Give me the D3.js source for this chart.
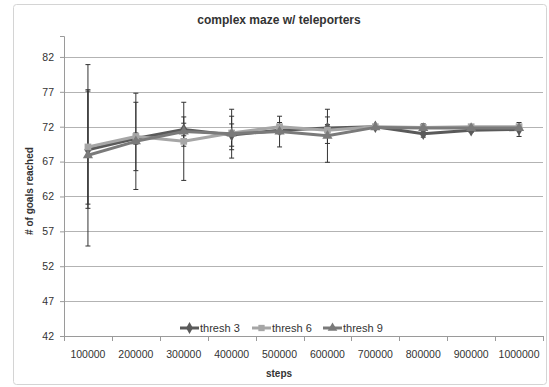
<!DOCTYPE html>
<html>
<head>
<meta charset="utf-8">
<script src="https://cdn.jsdelivr.net/npm/d3@7"></script>
<style>
  body { margin: 0; background: #fff; }
  text { font-family: "Liberation Sans", Arial, sans-serif; fill: #333; }
</style>
</head>
<body>
<div class="chart"></div>
<script>
// data
var steps = ["100000", "200000", "300000", "400000", "500000", "600000", "700000", "800000", "900000", "1000000"];
var seriesNames = ["thresh 3", "thresh 6", "thresh 9"];
var thresh3 = [68.7, 70.3, 71.6, 70.8, 71.5, 71.8, 72.0, 71.0, 71.5, 71.6];
var thresh3Err = [8.4, 0.8, 0.9, 1.6, 0.5, 0.5, 0.3, 0.5, 0.3, 1.0];
var thresh6 = [69.1, 70.6, 69.9, 71.1, 72.0, 71.5, 72.0, 71.9, 72.0, 72.0];
var thresh6Err = [8.2, 4.9, 5.6, 2.4, 0.6, 1.9, 0.2, 0.3, 0.2, 0.2];
var thresh9 = [67.9, 69.9, 71.3, 71.0, 71.3, 70.7, 71.9, 71.8, 71.8, 71.8];
var thresh9Err = [13.0, 6.9, 2.1, 3.5, 2.2, 3.8, 0.3, 0.6, 0.3, 0.3];
var yTicks = [42, 47, 52, 57, 62, 67, 72, 77, 82];

var svgWidth = 549, svgHeight = 387;
var margin = { top: 36, right: 6, bottom: 51, left: 64 };
var width = svgWidth - margin.left - margin.right;
var height = svgHeight - margin.top - margin.bottom;

var colors = ["#5a5a5a", "#a6a6a6", "#7a7a7a"];
var shapes = [d3.symbolDiamond, d3.symbolSquare, d3.symbolTriangle];

var series = [
  { name: seriesNames[0], values: thresh3, err: thresh3Err },
  { name: seriesNames[1], values: thresh6, err: thresh6Err },
  { name: seriesNames[2], values: thresh9, err: thresh9Err }
];

var svg = d3.select(".chart").append("svg")
  .attr("width", svgWidth)
  .attr("height", svgHeight);

// outer chart border
svg.append("rect")
  .attr("x", 13.5).attr("y", 4.5)
  .attr("width", 533).attr("height", 380)
  .attr("rx", 3)
  .attr("fill", "#fff")
  .attr("stroke", "#d4d4d4");

var chart = svg.append("g")
  .attr("transform", "translate(" + margin.left + "," + margin.top + ")");

var x = d3.scaleBand().domain(steps).range([0, width]);
var y = d3.scaleLinear().domain([42, 85]).range([height, 0]);

// gridlines
chart.append("g").selectAll("line")
  .data(yTicks)
  .enter().append("line")
  .attr("x1", 0).attr("x2", width)
  .attr("y1", function(d) { return Math.round(y(d)) + 0.5; })
  .attr("y2", function(d) { return Math.round(y(d)) + 0.5; })
  .attr("stroke", "#b3b3b3");

// y axis
var leftAxis = d3.axisLeft(y).tickValues(yTicks).tickSize(4).tickPadding(6);
var gy = chart.append("g").call(leftAxis);
gy.select(".domain").attr("stroke", "#9a9a9a");
gy.selectAll(".tick line").attr("stroke", "#9a9a9a");
gy.selectAll("text").attr("font-size", "10.5px").attr("fill", "#333")
  .style("font-family", "Liberation Sans, Arial, sans-serif");

// x axis with ticks on category boundaries
chart.append("line")
  .attr("x1", 0).attr("x2", width)
  .attr("y1", height + 0.5).attr("y2", height + 0.5)
  .attr("stroke", "#9a9a9a");
chart.append("g").selectAll("line")
  .data(steps.concat(["end"]))
  .enter().append("line")
  .attr("x1", function(d, i) { return Math.round(i * x.step()) + 0.5; })
  .attr("x2", function(d, i) { return Math.round(i * x.step()) + 0.5; })
  .attr("y1", height).attr("y2", height + 5)
  .attr("stroke", "#9a9a9a");
chart.append("g").selectAll("text")
  .data(steps)
  .enter().append("text")
  .attr("x", function(d) { return x(d) + x.bandwidth() / 2; })
  .attr("y", height + 22)
  .attr("text-anchor", "middle")
  .attr("font-size", "10.5px")
  .text(function(d) { return d; });

// error bars
series.forEach(function(s, si) {
  var g = chart.append("g");
  s.values.forEach(function(v, i) {
    var cx = x(steps[i]) + x.bandwidth() / 2;
    var top = y(v + s.err[i]), bot = y(v - s.err[i]);
    g.append("line").attr("x1", cx).attr("x2", cx).attr("y1", top).attr("y2", bot)
      .attr("stroke", "#333").attr("stroke-width", 1);
    [top, bot].forEach(function(yy) {
      g.append("line").attr("x1", cx - 2.5).attr("x2", cx + 2.5).attr("y1", yy).attr("y2", yy)
        .attr("stroke", "#333").attr("stroke-width", 1);
    });
  });
});

// lines and markers
var line = d3.line()
  .x(function(d, i) { return x(steps[i]) + x.bandwidth() / 2; })
  .y(function(d) { return y(d); });

series.forEach(function(s, si) {
  chart.append("path")
    .datum(s.values)
    .attr("d", line)
    .attr("fill", "none")
    .attr("stroke", colors[si])
    .attr("stroke-width", 3)
    .attr("stroke-linejoin", "round");
  chart.append("g").selectAll("path")
    .data(s.values)
    .enter().append("path")
    .attr("transform", function(d, i) {
      return "translate(" + (x(steps[i]) + x.bandwidth() / 2) + "," + y(d) + ")";
    })
    .attr("d", d3.symbol().type(shapes[si]).size(45))
    .attr("fill", colors[si]);
});

// legend
var legendX = [180, 252, 323];
var legend = chart.append("g");
series.forEach(function(s, si) {
  var lg = legend.append("g")
    .attr("transform", "translate(" + (legendX[si] - margin.left) + "," + (328 - margin.top) + ")");
  lg.append("line").attr("x1", 0).attr("x2", 19).attr("y1", 0).attr("y2", 0)
    .attr("stroke", colors[si]).attr("stroke-width", 3);
  lg.append("path").attr("transform", "translate(9.5,0)")
    .attr("d", d3.symbol().type(shapes[si]).size(40))
    .attr("fill", colors[si]);
  lg.append("text").attr("x", 20).attr("y", 4)
    .attr("font-size", "11px")
    .text(s.name);
});

// title
svg.append("text")
  .attr("x", 279).attr("y", 24)
  .attr("text-anchor", "middle")
  .attr("font-size", "12px")
  .attr("font-weight", "bold")
  .attr("fill", "#222")
  .text("complex maze w/ teleporters");

// y axis label
svg.append("text")
  .attr("transform", "translate(33," + 191 + ") rotate(-90)")
  .attr("text-anchor", "middle")
  .attr("font-size", "10px")
  .attr("font-weight", "bold")
  .attr("fill", "#222")
  .text("# of goals reached");

// x axis label
svg.append("text")
  .attr("x", 279).attr("y", 377)
  .attr("text-anchor", "middle")
  .attr("font-size", "10px")
  .attr("font-weight", "bold")
  .attr("fill", "#222")
  .text("steps");
</script>
</body>
</html>
